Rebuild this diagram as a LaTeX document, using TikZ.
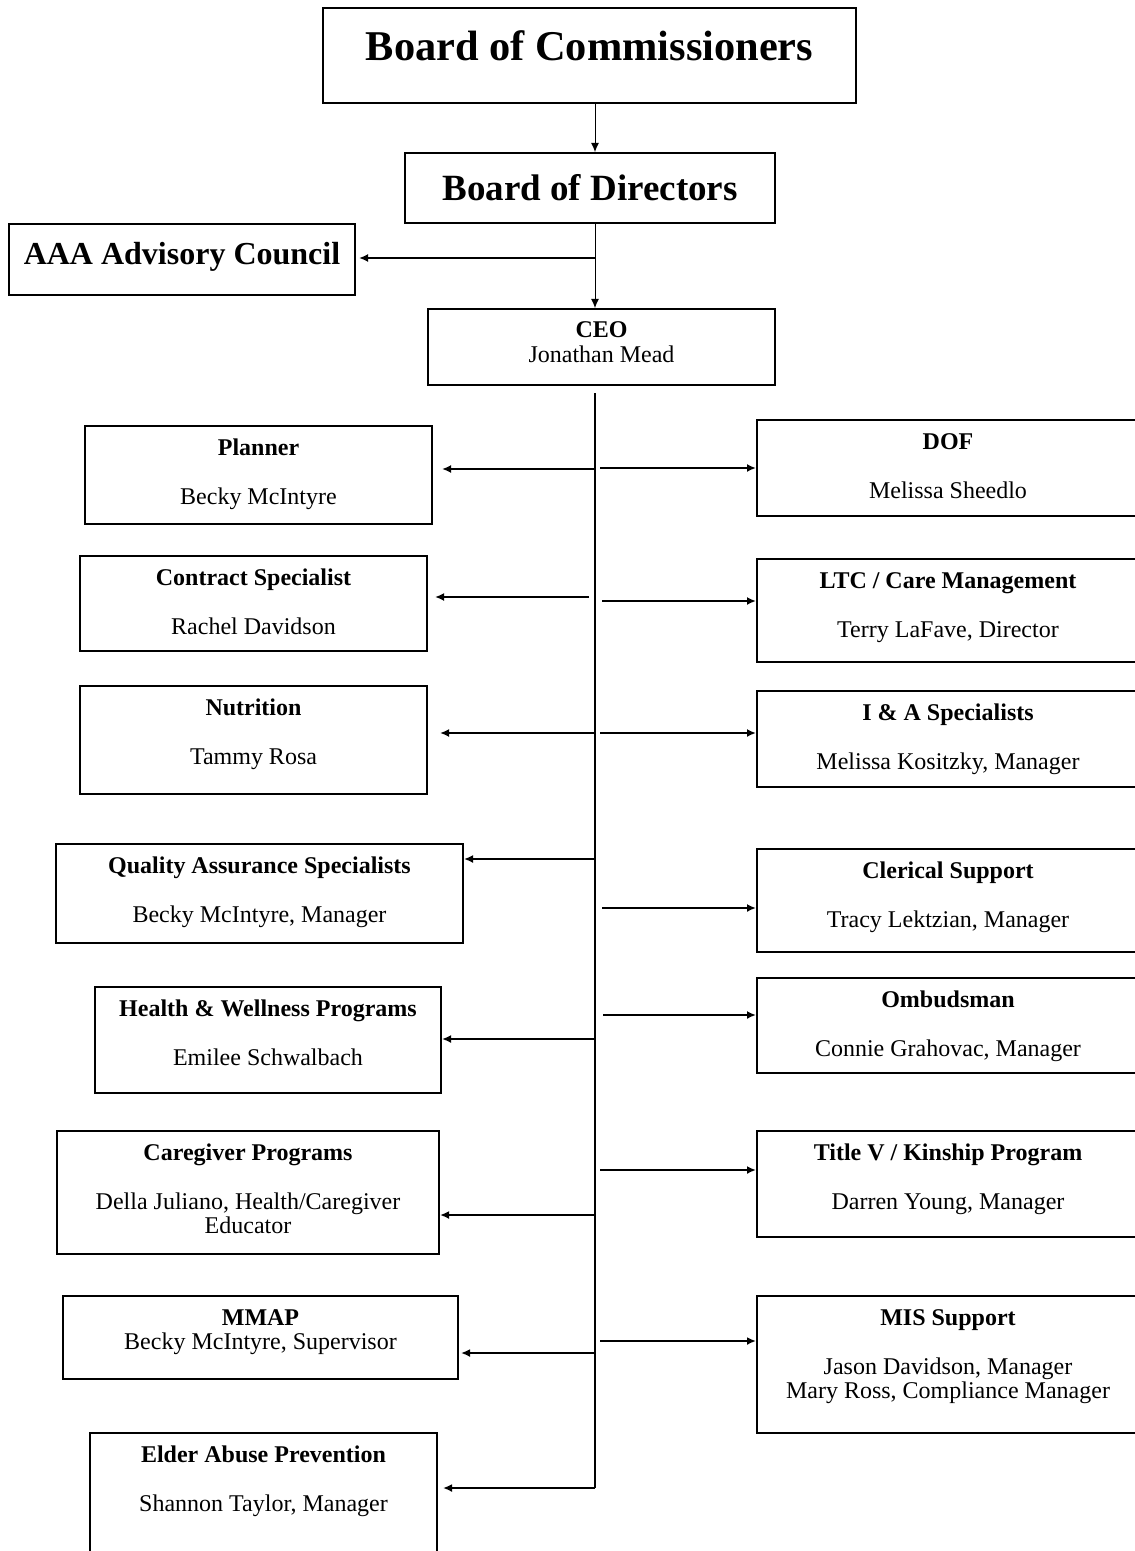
\documentclass[tikz,border=0pt]{standalone}
\usepackage{fontspec}
\setmainfont{Liberation Serif}
\usetikzlibrary{arrows.meta,calc,positioning}

\begin{document}
\begin{tikzpicture}[x=0.5pt, y=-0.5pt, >={Latex[length=4.5pt,width=4pt]},
  unit/.style={draw, line width=1pt, anchor=north, align=flush center, inner sep=0pt,
    text height=14.5pt, font=\fontsize{12}{12.25}\selectfont},
  branch/.style={->, line width=1pt},
  link/.style={->, line width=0.5pt}]
  \useasboundingbox (0,0) rectangle (1134,1551);

  % The boards and the CEO
  \node[unit, text width=266.5pt, text height=26.5pt, text depth=21pt,
    font=\fontsize{21.2}{25}\selectfont\bfseries] (boc) at (589.5,7) {Board of Commissioners};
  \node[unit, text width=185pt, text height=24pt, text depth=11pt,
    font=\fontsize{18.5}{22}\selectfont\bfseries] (bod) at (590,152) {Board of Directors};
  \node[unit, text width=173pt, text height=20.5pt, text depth=15pt,
    font=\fontsize{16}{19}\selectfont\bfseries] (aaa) at (182,223) {AAA Advisory Council};
  \node[unit, text width=173.5pt, text depth=23.5pt] (ceo) at (601.5,308) {\textbf{CEO}\\Jonathan Mead};

  \coordinate (council) at (595,258);
  \draw[link] (boc.south -| council) -- (bod.north -| council);
  \draw[link] (bod.south -| council) -- (ceo.north -| council);
  \draw[branch, shorten >=1.5pt] (council) -- (aaa.east |- council);

  % The trunk below the CEO
  \coordinate (trunk) at (595,393);
  \coordinate (l-elder) at (595,1488);
  \draw[line width=0.75pt] (trunk) -- (l-elder);

  % Left column
  \node[unit, text width=173.5pt, text depth=34.5pt] (planner) at (258.5,425)
    {\textbf{Planner}\\[12.25pt]Becky McIntyre};
  \node[unit, text width=173.5pt, text depth=33pt] (contract) at (253.5,555)
    {\textbf{Contract Specialist}\\[12.25pt]Rachel Davidson};
  \node[unit, text width=173.5pt, text depth=39.5pt] (nutrition) at (253.5,685)
    {\textbf{Nutrition}\\[12.25pt]Tammy Rosa};
  \node[unit, text width=203.5pt, text depth=35pt] (quality) at (259.5,843)
    {\textbf{Quality Assurance Specialists}\\[12.25pt]Becky McIntyre, Manager};
  \node[unit, text width=173pt, text depth=38.5pt] (health) at (268,986)
    {\textbf{Health \& Wellness Programs}\\[12.25pt]Emilee Schwalbach};
  \node[unit, text width=191pt, text depth=47pt] (caregiver) at (248,1130)
    {\textbf{Caregiver Programs}\\[12.25pt]Della Juliano, Health/Caregiver\\Educator};
  \node[unit, text width=197.5pt, text depth=27pt] (mmap) at (260.5,1295)
    {\textbf{MMAP}\\Becky McIntyre, Supervisor};
  \node[unit, text width=173.5pt, text depth=60.5pt] (elder) at (263.5,1432)
    {\textbf{Elder Abuse Prevention}\\[12.25pt]Shannon Taylor, Manager};

  % Right column
  \node[unit, text width=191pt, text depth=33.5pt] (dof) at (948,419)
    {\textbf{DOF}\\[12.25pt]Melissa Sheedlo};
  \node[unit, text width=191pt, text depth=37pt] (ltc) at (948,558)
    {\textbf{LTC / Care Management}\\[12.25pt]Terry LaFave, Director};
  \node[unit, text width=191pt, text depth=33.5pt] (info) at (948,690)
    {\textbf{I \& A Specialists}\\[12.25pt]Melissa Kositzky, Manager};
  \node[unit, text width=191pt, text depth=37pt] (clerical) at (948,848)
    {\textbf{Clerical Support}\\[12.25pt]Tracy Lektzian, Manager};
  \node[unit, text width=191pt, text depth=33pt] (ombudsman) at (948,977)
    {\textbf{Ombudsman}\\[12.25pt]Connie Grahovac, Manager};
  \node[unit, text width=191pt, text depth=38.5pt] (titlev) at (948,1130)
    {\textbf{Title V / Kinship Program}\\[12.25pt]Darren Young, Manager};
  \node[unit, text width=191pt, text depth=54pt] (mis) at (948,1295)
    {\textbf{MIS Support}\\[12.25pt]Jason Davidson, Manager\\Mary Ross, Compliance Manager};

  % Branches to the left
  \coordinate (l-planner) at (595,469);
  \coordinate (l-contract) at (589,597);
  \coordinate (l-nutrition) at (595,733);
  \coordinate (l-quality) at (595,859);
  \coordinate (l-health) at (595,1039);
  \coordinate (l-caregiver) at (595,1215);
  \coordinate (l-mmap) at (595,1353);
  \draw[branch, shorten >=4.5pt] (l-planner) -- (planner.east |- l-planner);
  \draw[branch, shorten >=3.5pt] (l-contract) -- (contract.east |- l-contract);
  \draw[branch, shorten >=6pt] (l-nutrition) -- (nutrition.east |- l-nutrition);
  \draw[branch] (l-quality) -- (quality.east |- l-quality);
  \draw[branch] (l-health) -- (health.east |- l-health);
  \draw[branch] (l-caregiver) -- (caregiver.east |- l-caregiver);
  \draw[branch, shorten >=1pt] (l-mmap) -- (mmap.east |- l-mmap);
  \draw[branch, shorten >=2.5pt] (l-elder) -- (elder.east |- l-elder);

  % Branches to the right
  \coordinate (r-dof) at (600,468);
  \coordinate (r-ltc) at (602,601);
  \coordinate (r-info) at (600,733);
  \coordinate (r-clerical) at (602,908);
  \coordinate (r-ombudsman) at (603,1015);
  \coordinate (r-titlev) at (600,1170);
  \coordinate (r-mis) at (600,1341);
  \draw[branch] (r-dof) -- (dof.west |- r-dof);
  \draw[branch] (r-ltc) -- (ltc.west |- r-ltc);
  \draw[branch] (r-info) -- (info.west |- r-info);
  \draw[branch] (r-clerical) -- (clerical.west |- r-clerical);
  \draw[branch] (r-ombudsman) -- (ombudsman.west |- r-ombudsman);
  \draw[branch] (r-titlev) -- (titlev.west |- r-titlev);
  \draw[branch] (r-mis) -- (mis.west |- r-mis);
\end{tikzpicture}
\end{document}
